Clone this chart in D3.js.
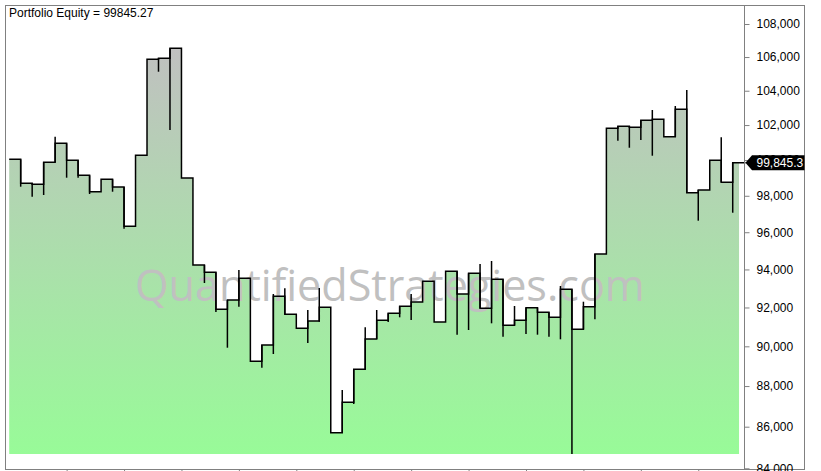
<!DOCTYPE html>
<html>
<head>
<meta charset="utf-8">
<script src="https://cdn.jsdelivr.net/npm/d3@7"></script>
<style>
  html, body { margin: 0; padding: 0; background: #fff; }
  svg { display: block; }
  text { font-family: "Liberation Sans", Arial, sans-serif; }
</style>
</head>
<body>
<svg id="chart" width="821" height="471"></svg>
<script>
// equity per bar (close)
const equity = [
  100041, 98693, 98637, 99872, 100951, 99985, 99141, 98225, 98917, 98487,
  96322, 100269, 105864, 105924, 106525, 98990, 94236, 93848, 91904, 92389,
  93531, 89241, 90067, 92583, 91645, 90922, 91298, 92009, 85709, 87195,
  88838, 90373, 91334, 91697, 92061, 92285, 93372, 91247, 93902, 92703,
  93795, 91956, 93477, 91076, 91334, 91988, 91749, 91489, 92949, 90870,
  92040, 94825, 101812, 101927, 101869, 102273, 102332, 101329, 102912, 98170,
  98320, 99985, 98749, 99845.27
];

// intrabar extremes drawn as wicks at the start of each bar (null = none)
const wickHigh = [
  null, null, null, null, 101329, null, null, null, null, null,
  null, null, null, null, null, null, null, null, null, null,
  93970, null, null, 92703, 93002, null, 91868, 93018, null, 87803,
  null, 90974, 91868, null, null, 92703, null, null, null, null,
  null, 94289, 94450, null, 92077, null, null, null, 93124, null,
  92300, null, null, null, null, null, 102871, null, 103104, 104041,
  null, null, 101295, null
];
const wickLow = [
  null, 98504, 97948, 98042, null, 99007, 99007, 98098, null, 98225,
  96191, null, null, 105124, 101714, null, null, 93282, 91764, 89930,
  92040, null, 88918, 89610, null, null, 90169, 91262, null, null,
  87111, null, null, 91247, 91489, 91350, null, null, null, 90594,
  90834, null, 91179, 90491, null, 90629, 90594, 90491, 90358, 84682,
  91521, 91386, null, 101100, 100700, 101140, 100246, null, null, null,
  96628, null, null, 97065
];

const yTicks = [84000, 86000, 88000, 90000, 92000, 94000, 96000, 98000,
                100000, 102000, 104000, 106000, 108000];
const xTicks = [5, 10, 15, 20, 25, 30, 35, 40, 45, 50, 55, 60];

const titleText = 'Portfolio Equity';
const watermark = 'QuantifiedStrategies.com';

const svg = d3.select('#chart');
const W = 821, H = 471;
const frame = { left: 5.5, top: 5.5, right: 804.5, bottom: 469.5, axisX: 744.5 };

const x = d3.scaleLinear().domain([0, equity.length]).range([9.2, 744.2]);
const y = d3.scaleLog().domain([84000, 108000]).range([468.3, 24]);

const last = equity[equity.length - 1];
const fillBottom = y(d3.min(wickLow.filter(v => v != null)));

// gradient fill: gray at the peak, pale green at the bottom
const defs = svg.append('defs');
const grad = defs.append('linearGradient')
  .attr('id', 'eqFill')
  .attr('gradientUnits', 'userSpaceOnUse')
  .attr('x1', 0).attr('x2', 0)
  .attr('y1', y(d3.max(equity))).attr('y2', fillBottom);
grad.append('stop').attr('offset', 0).attr('stop-color', '#c0c0c0');
grad.append('stop').attr('offset', 1).attr('stop-color', '#98fb98');

const pts = equity.map((v, i) => [x(i), y(v)]);

const area = d3.area()
  .curve(d3.curveStepAfter)
  .x(d => d[0])
  .y0(fillBottom)
  .y1(d => d[1]);

svg.append('path')
  .attr('d', area(pts.concat([[x(equity.length - 0.45), y(last)]])))
  .attr('fill', 'url(#eqFill)');

// watermark, fitted to its width in the reference
const wm = svg.append('text')
  .attr('x', 135)
  .attr('y', 301)
  .attr('fill', '#c0c0c0')
  .style('font-family', '"Open Sans", "DejaVu Sans", sans-serif')
  .style('font-size', '48px')
  .text(watermark);
const wmLen = wm.node().getComputedTextLength();
wm.style('font-size', (48 * 510 / wmLen) + 'px');

// step line
const line = d3.line().curve(d3.curveStepAfter);
svg.append('path')
  .attr('d', line(pts.concat([[frame.axisX + 1, y(last)]])))
  .attr('fill', 'none')
  .attr('stroke', '#000')
  .attr('stroke-width', 1.5);

// wicks
const wicks = equity.map((v, i) => {
  if (wickHigh[i] == null && wickLow[i] == null) return null;
  const prev = i > 0 ? equity[i - 1] : v;
  const hi = Math.max(v, prev, wickHigh[i] || 0);
  const lo = Math.min(v, prev, wickLow[i] || Infinity);
  return { i, hi, lo };
}).filter(d => d);

svg.append('g')
  .selectAll('line')
  .data(wicks)
  .enter()
  .append('line')
  .attr('x1', d => x(d.i)).attr('x2', d => x(d.i))
  .attr('y1', d => y(d.hi)).attr('y2', d => y(d.lo))
  .attr('stroke', '#000')
  .attr('stroke-width', 1.5);

// frame and axis line
svg.append('rect')
  .attr('x', frame.left).attr('y', frame.top)
  .attr('width', frame.right - frame.left)
  .attr('height', frame.bottom - frame.top)
  .attr('fill', 'none')
  .attr('stroke', '#808080');
svg.append('line')
  .attr('x1', frame.axisX).attr('x2', frame.axisX)
  .attr('y1', frame.top).attr('y2', frame.bottom)
  .attr('stroke', '#808080');

const yAxis = svg.append('g')
  .attr('transform', `translate(${frame.axisX},0)`)
  .call(d3.axisRight(y).tickValues(yTicks).tickFormat(d3.format(',')).tickSize(5).tickPadding(7));
yAxis.select('.domain').remove();
yAxis.selectAll('.tick line').attr('stroke', '#808080');
yAxis.selectAll('.tick text')
  .attr('fill', '#000')
  .style('font-family', '"Liberation Sans", Arial, sans-serif')
  .style('font-size', '12px');

const xAxis = svg.append('g')
  .attr('transform', `translate(0,${frame.bottom})`)
  .call(d3.axisBottom(x).tickValues(xTicks).tickFormat('').tickSize(5));
xAxis.select('.domain').remove();
xAxis.selectAll('.tick line').attr('stroke', '#808080');

// last value marker on the axis
const ym = y(last);
svg.append('path')
  .attr('d', `M${frame.axisX + 1},${ym} L${frame.axisX + 7.5},${ym - 7.5} L${frame.right},${ym - 7.5} L${frame.right},${ym + 7.5} L${frame.axisX + 7.5},${ym + 7.5} Z`)
  .attr('fill', '#000');
svg.append('text')
  .attr('x', frame.axisX + 12)
  .attr('y', ym)
  .attr('dy', '0.35em')
  .attr('fill', '#fff')
  .style('font-size', '12px')
  .text(d3.format(',.1f')(last));

// title
svg.append('text')
  .attr('x', 9)
  .attr('y', 17)
  .attr('fill', '#000')
  .style('font-size', '12px')
  .text(`${titleText} = ${last}`);
</script>
</body>
</html>
